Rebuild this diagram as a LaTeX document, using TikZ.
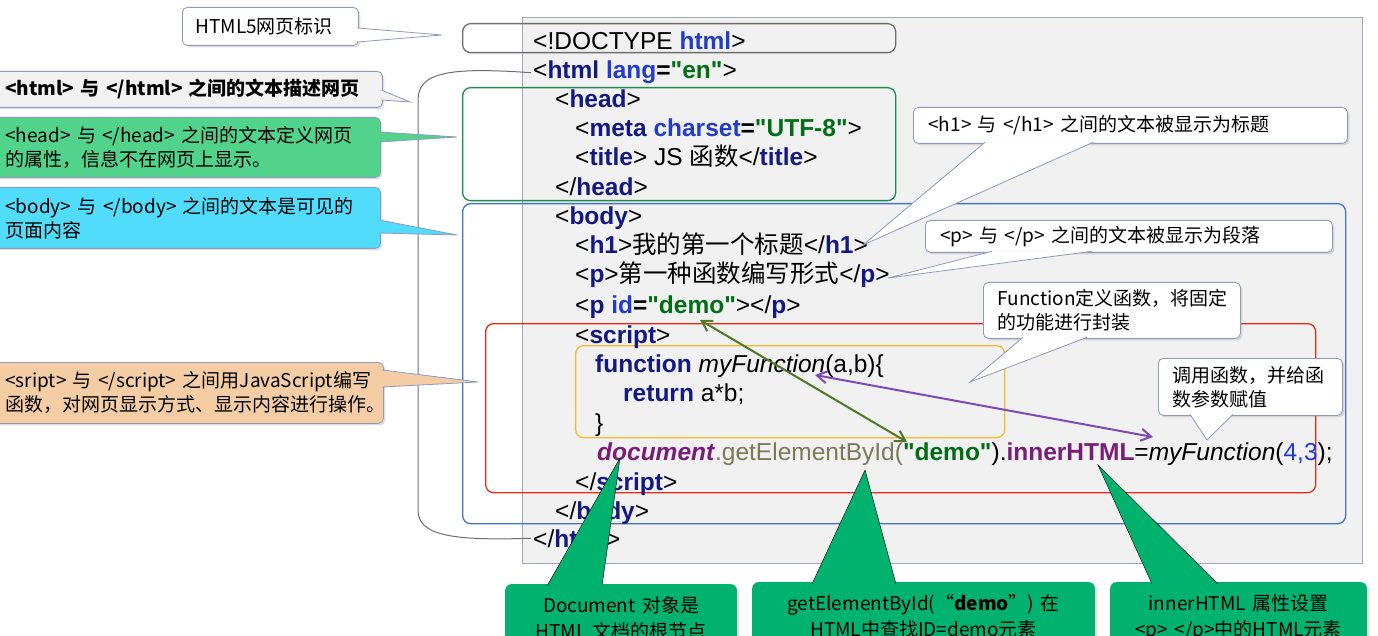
\documentclass[tikz,border=0pt]{standalone}
\usepackage{fontspec}
\setmainfont{Liberation Sans}[Ligatures=TeXOff]
\newfontfamily\cjk{Noto Sans CJK SC}
\usetikzlibrary{positioning,shadows,arrows.meta}

\definecolor{panelgrey}{RGB}{241,241,241}
\definecolor{paneledge}{RGB}{160,168,185}
\definecolor{noteedge}{RGB}{140,155,190}
\definecolor{doctypegrey}{RGB}{110,110,110}
\definecolor{headgreen}{RGB}{30,140,75}
\definecolor{bodyblue}{RGB}{70,115,195}
\definecolor{scriptred}{RGB}{230,45,20}
\definecolor{fnorange}{RGB}{250,185,45}
\definecolor{tagblue}{RGB}{20,25,130}
\definecolor{attrblue}{RGB}{35,60,200}
\definecolor{valgreen}{RGB}{0,110,20}
\definecolor{docpurple}{RGB}{120,30,120}
\definecolor{idolive}{RGB}{125,120,85}
\definecolor{numblue}{RGB}{30,60,220}
\definecolor{htmlgrey}{RGB}{242,242,242}
\definecolor{headnote}{RGB}{82,211,140}
\definecolor{bodynote}{RGB}{80,220,250}
\definecolor{scriptnote}{RGB}{245,205,165}
\definecolor{bottomgreen}{RGB}{0,178,110}
\definecolor{linkgreen}{RGB}{80,120,40}
\definecolor{linkpurple}{RGB}{125,75,180}

\newcommand{\tg}[1]{\textbf{\textcolor{tagblue}{#1}}}
\newcommand{\at}[1]{\textbf{\textcolor{attrblue}{#1}}}
\newcommand{\vl}[1]{\textbf{\textcolor{valgreen}{#1}}}
\newcommand{\notetip}[4]{\filldraw[#1] (#2) -- (#4) -- (#3);}

\tikzset{
  codeline/.style={anchor=base west, inner sep=0pt, font=\fontsize{24.5}{29}\selectfont},
  tagframe/.style={anchor=north west, rounded corners=8pt, line width=1.3pt},
  callbox/.style={anchor=north west, draw=noteedge, line width=0.8pt, rounded corners=5pt,
    align=left, inner xsep=14pt, font=\cjk\fontsize{19}{24}\selectfont,
    drop shadow={opacity=0.25, shadow xshift=2pt, shadow yshift=-2pt}},
  bottombox/.style={anchor=north west, fill=bottomgreen, rounded corners=6pt, align=center,
    inner ysep=12pt, font=\cjk\fontsize{19}{26}\selectfont,
    drop shadow={opacity=0.25, shadow xshift=2pt, shadow yshift=-2pt}},
  link/.style={line width=2pt, {Straight Barb[length=10pt,width=12pt]}-{Straight Barb[length=10pt,width=12pt]}}
}

\begin{document}
\begin{tikzpicture}[x=1pt,y=-1pt]
\useasboundingbox (0,0) rectangle (1378,636);
\clip (0,0) rectangle (1378,636);

% code panel
\node(panel) [anchor=north west, fill=panelgrey, draw=paneledge, line width=1pt,
  minimum width=840, minimum height=546] at (522,17) {};

% frames round the parts
\node(doctypebox) [tagframe, draw=doctypegrey, minimum width=433, minimum height=29] at (462,23) {};
\node(headbox)    [tagframe, draw=headgreen, minimum width=433, minimum height=113] at (462,87) {};
\node(bodybox)    [tagframe, draw=bodyblue, minimum width=883, minimum height=320] at (462,203) {};
\node(scriptbox)  [tagframe, draw=scriptred, minimum width=830, minimum height=169] at (485,323) {};
\node(fnbox)      [tagframe, draw=fnorange, minimum width=429, minimum height=92] at (575,345) {};

% code lines
\node(doctype)     [codeline] at (533,50)  {<!DOCTYPE \at{html}>};
\node(htmlopen)    [codeline] at (533,79)  {<\tg{html} \at{lang}\textbf{=}\vl{"en"}>};
\node(headopen)    [codeline] at (555,108) {<\tg{head}>};
\node(meta)        [codeline] at (575,137) {<\tg{meta} \at{charset}\textbf{=}\vl{"UTF-8"}>};
\node(title)       [codeline] at (575,166) {<\tg{title}> JS {\cjk 函数}</\tg{title}>};
\node(headclose)   [codeline] at (555,196) {</\tg{head}>};
\node(bodyopen)    [codeline] at (555,225) {<\tg{body}>};
\node(h1)          [codeline] at (575,254) {<\tg{h1}>{\cjk 我的第一个标题}</\tg{h1}>};
\node(para)        [codeline] at (575,283) {<\tg{p}>{\cjk 第一种函数编写形式}</\tg{p}>};
\node(demo)        [codeline] at (575,313) {<\tg{p} \at{id}\textbf{=}\vl{"demo"}></\tg{p}>};
\node(scriptopen)  [codeline] at (575,343) {<\tg{script}>};
\node(fndef)       [codeline] at (595,372) {\tg{function} \textit{myFunction}(a,b)\{};
\node(ret)         [codeline] at (623,401) {\tg{return} a*b;};
\node(brace)       [codeline] at (595,431) {\}};
\node(call)        [codeline] at (597,460) {\textcolor{docpurple}{\textbf{\textit{document}}}\textcolor{idolive}{.getElementById(}\vl{"demo"}).\textcolor{docpurple}{\textbf{innerHTML}}=\textit{myFunction}(\textcolor{numblue}{4,3});};
\node(scriptclose) [codeline] at (575,490) {</\tg{script}>};
\node(bodyclose)   [codeline] at (555,519) {</\tg{body}>};
\node(htmlclose)   [codeline] at (533,547) {</\tg{html}>};

% bracket html ... /html
\draw[doctypegrey, line width=1pt] ([xshift=-2pt]htmlopen.west) .. controls (450,67) and (418,72) .. (418,100)
  -- (418,510) .. controls (418,535) and (450,541) .. ([xshift=-2pt]htmlclose.west);

% links between the code
\coordinate(demoattr) at (700,320);
\coordinate(demoarg)  at (907,442);
\coordinate(fnname)   at (815,375);
\coordinate(fncall)   at (1153,437);
\draw[link, linkgreen]  (demoattr) -- (demoarg);
\draw[link, linkpurple] (fnname) -- (fncall);

% notes on the left
\coordinate(html5tip)  at (442,35);
\coordinate(htmltip)   at (410,102);
\coordinate(headtip)   at (457,137);
\coordinate(bodytip)   at (457,235);
\coordinate(scripttip) at (478,382);

\node(html5note) [callbox, fill=white, minimum height=38, text width=150, inner xsep=13pt] at (182,7) {HTML5网页标识};
\notetip{fill=white, draw=noteedge, line width=0.8pt}{[xshift=-1.5pt,yshift=-21pt]html5note.north east}{[xshift=-1.5pt,yshift=-35pt]html5note.north east}{html5tip}

\node(htmlnote) [callbox, fill=htmlgrey, minimum height=36, text width=362, inner xsep=15pt] at (-10,71) {\textbf{<html> 与 </html> 之间的文本描述网页}};
\notetip{fill=htmlgrey, draw=noteedge, line width=0.8pt}{[xshift=-1.5pt,yshift=-19pt]htmlnote.north east}{[xshift=-1.5pt,yshift=-29pt]htmlnote.north east}{htmltip}

\node(headnote) [callbox, fill=headnote, minimum height=60, text width=360, inner xsep=15pt] at (-10,117) {<head> 与 </head> 之间的文本定义网页\\的属性，信息不在网页上显示。};
\notetip{fill=headnote, draw=noteedge, line width=0.8pt}{[xshift=-1.5pt,yshift=-15pt]headnote.north east}{[xshift=-1.5pt,yshift=-25pt]headnote.north east}{headtip}

\node(bodynote) [callbox, fill=bodynote, minimum height=61, text width=360, inner xsep=15pt] at (-10,187) {<body> 与 </body> 之间的文本是可见的\\页面内容};
\notetip{fill=bodynote, draw=noteedge, line width=0.8pt}{[xshift=-1.5pt,yshift=-33pt]bodynote.north east}{[xshift=-1.5pt,yshift=-46pt]bodynote.north east}{bodytip}

\node(scriptnote) [callbox, fill=scriptnote, minimum height=61, text width=363, inner xsep=15pt] at (-10,362) {\mbox{<sript> 与 </script> 之间用JavaScript编写}\\函数，对网页显示方式、显示内容进行操作。};
\notetip{fill=scriptnote, draw=noteedge, line width=0.8pt}{[xshift=-1.5pt,yshift=-8pt]scriptnote.north east}{[xshift=-1.5pt,yshift=-25pt]scriptnote.north east}{scripttip}

% notes on the right
\coordinate(h1tip)   at (863,245);
\coordinate(ptip)    at (888,278);
\coordinate(fntip)   at (970,382);
\coordinate(calltip) at (1207,440);

\node(h1note) [callbox, fill=white, minimum height=36, text width=404, inner xsep=15pt] at (913,107) {<h1> 与 </h1> 之间的文本被显示为标题};
\notetip{fill=white, draw=noteedge, line width=0.8pt}{[xshift=72pt,yshift=1.5pt]h1note.south west}{[xshift=180pt,yshift=1.5pt]h1note.south west}{h1tip}

\node(pnote) [callbox, fill=white, minimum height=32, text width=377, inner xsep=15pt] at (925,220) {<p> 与 </p> 之间的文本被显示为段落};
\notetip{fill=white, draw=noteedge, line width=0.8pt}{[xshift=67pt,yshift=1.5pt]pnote.south west}{[xshift=167pt,yshift=1.5pt]pnote.south west}{ptip}

\node(fnnote) [callbox, fill=white, minimum height=56, text width=229] at (983,282) {Function定义函数，将固定\\的功能进行封装};
\notetip{fill=white, draw=noteedge, line width=0.8pt}{[xshift=40pt,yshift=1.5pt]fnnote.south west}{[xshift=104pt,yshift=1.5pt]fnnote.south west}{fntip}

\node(callnote) [callbox, fill=white, minimum height=57, text width=156] at (1158,358) {调用函数，并给函\\数参数赋值};
\notetip{fill=white, draw=noteedge, line width=0.8pt}{[xshift=32pt,yshift=1.5pt]callnote.south west}{[xshift=75pt,yshift=1.5pt]callnote.south west}{calltip}

% notes at the bottom
\coordinate(doctip)   at (620,458);
\coordinate(gettip)   at (865,470);
\coordinate(innertip) at (1098,465);

\node(docnote) [bottombox, text width=225] at (505,584) {Document 对象是\\HTML 文档的根节点};
\notetip{fill=bottomgreen}{[xshift=42pt,yshift=-2pt]docnote.north west}{[xshift=97pt,yshift=-2pt]docnote.north west}{doctip}

\node(getnote) [bottombox, text width=336] at (752,582) {getElementById(“\textbf{demo}”) 在\\HTML中查找ID=demo元素};
\notetip{fill=bottomgreen}{[xshift=60pt,yshift=-2pt]getnote.north west}{[xshift=144pt,yshift=-2pt]getnote.north west}{gettip}

\node(innernote) [bottombox, text width=250] at (1110,582) {innerHTML 属性设置\\<p> </p>中的HTML元素};
\notetip{fill=bottomgreen}{[xshift=42pt,yshift=-2pt]innernote.north west}{[xshift=108pt,yshift=-2pt]innernote.north west}{innertip}
\end{tikzpicture}
\end{document}
